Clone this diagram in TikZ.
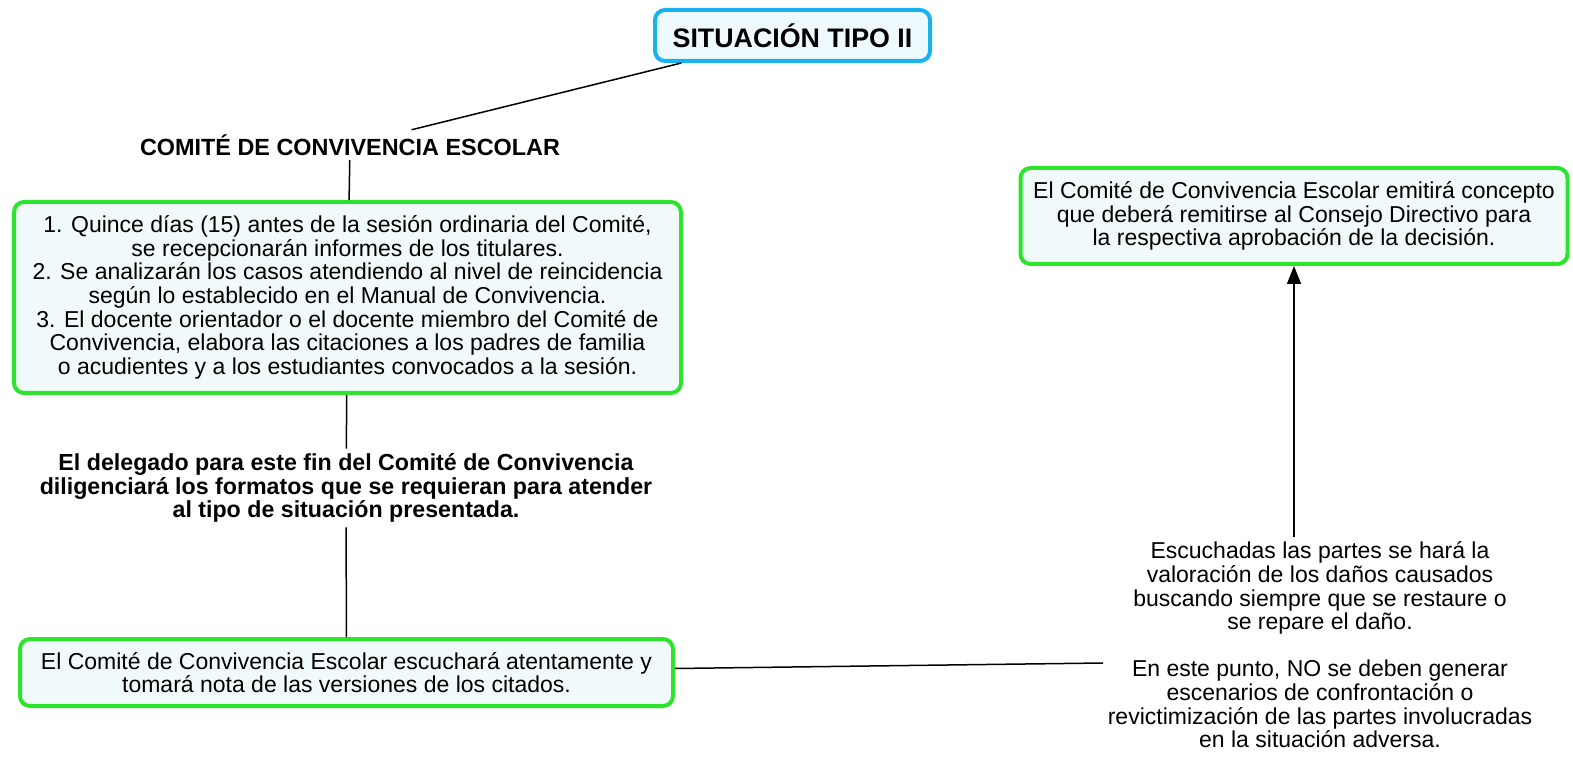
\documentclass[tikz,border=0pt]{standalone}
\usepackage{fontspec}
\setmainfont{Liberation Sans}
\usepackage{tikz}
\usetikzlibrary{arrows}
\usetikzlibrary{arrows.meta}
\usetikzlibrary{calc}
\usetikzlibrary{positioning}

\definecolor{tipoblue}{RGB}{24,178,240}
\definecolor{tipofill}{RGB}{238,249,253}
\definecolor{mapgreen}{RGB}{44,228,44}
\definecolor{mapfill}{RGB}{240,250,250}

\begin{document}
\begin{tikzpicture}[x=0.5pt,y=-0.5pt,line width=0.75pt,>={Triangle[length=9pt,width=7pt]},
                    main node/.style={draw=mapgreen,line width=2pt,rounded corners=5pt,fill=mapfill,
                                      align=center,inner sep=0pt,font=\fontsize{11.5}{11.8}\selectfont},
                    free text/.style={align=center,inner sep=2pt,font=\fontsize{11.5}{11.8}\selectfont}]

    \useasboundingbox (0,0) rectangle (1573,758);

    \node[main node,draw=tipoblue,fill=tipofill,minimum width=137.5pt,minimum height=25.5pt,
          font=\bfseries\fontsize{13.4}{15}\selectfont] (tipo) at (792.5,35.5) {SITUACIÓN TIPO II};
    \node[free text,font=\bfseries\fontsize{11.7}{13}\selectfont] (comite) at (350,145) {COMITÉ DE CONVIVENCIA ESCOLAR};
    \node[main node,minimum width=333.5pt,minimum height=95.5pt] (pasos) at (347.5,297.5)
        {1. Quince días (15) antes de la sesión ordinaria del Comité,\\
         se recepcionarán informes de los titulares.\\
         2. Se analizarán los casos atendiendo al nivel de reincidencia\\
         según lo establecido en el Manual de Convivencia.\\
         3. El docente orientador o el docente miembro del Comité de\\
         Convivencia, elabora las citaciones a los padres de familia\\
         o acudientes y a los estudiantes convocados a la sesión.};
    \node[free text,font=\bfseries\fontsize{11.6}{11.8}\selectfont] (delegado) at (346,488)
        {El delegado para este fin del Comité de Convivencia\\
         diligenciará los formatos que se requieran para atender\\
         al tipo de situación presentada.};
    \node[main node,minimum width=326.5pt,minimum height=33.5pt] (escucha) at (346.5,672.5)
        {El Comité de Convivencia Escolar escuchará atentamente y\\
         tomará nota de las versiones de los citados.};
    \node[free text] (valoracion) at (1320,645)
        {Escuchadas las partes se hará la\\
         valoración de los daños causados\\
         buscando siempre que se restaure o\\
         se repare el daño.\\[11.8pt]
         En este punto, NO se deben generar\\
         escenarios de confrontación o\\
         revictimización de las partes involucradas\\
         en la situación adversa.};
    \node[main node,minimum width=273.5pt,minimum height=48pt] (decision) at (1294,216)
        {El Comité de Convivencia Escolar emitirá concepto\\
         que deberá remitirse al Consejo Directivo para\\
         la respectiva aprobación de la decisión.};

    \draw (tipo) -- (comite);
    \draw (comite) -- (pasos);
    \draw (pasos) -- (delegado);
    \draw (delegado) -- (escucha);
    \draw ([yshift=2pt]escucha.east) -- ([yshift=-9pt]valoracion.west);
    \draw[->] (valoracion.north -| decision) -- (decision);
\end{tikzpicture}
\end{document}
